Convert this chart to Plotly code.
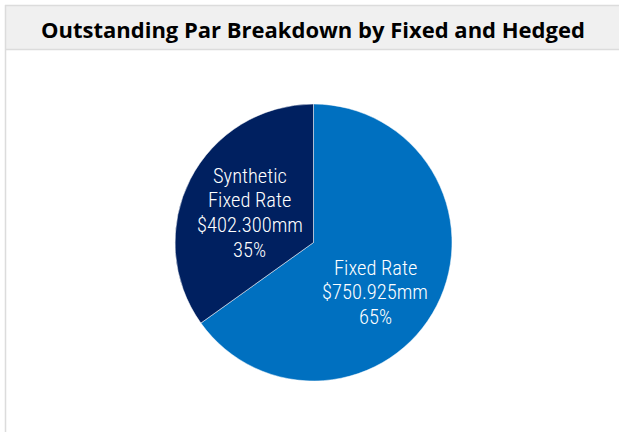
import plotly.graph_objects as go

categories = ["Fixed Rate", "Synthetic Fixed Rate"]
values = [750.925, 402.300]
label_lines = [["Fixed Rate"], ["Synthetic", "Fixed Rate"]]
colors = ["#0070C0", "#002060"]

W, H = 619, 432
total = sum(values)

fig = go.Figure()
cx, cy, r = 313.5, 242.5, 138.5
fig.add_trace(go.Pie(
    labels=categories,
    values=values,
    sort=False,
    direction="clockwise",
    rotation=0,
    marker=dict(colors=colors, line=dict(color="white", width=0.5)),
    textinfo="none",
    hoverinfo="label+value+percent",
    showlegend=False,
    domain=dict(x=[(cx - r) / W, (cx + r) / W], y=[1 - (cy + r) / H, 1 - (cy - r) / H]),
))

# label block positions: (center x, first line y) in pixels
label_pos = [(375, 267.5), (249.5, 175.5)]
line_gap = 24.7
for lines, v, (lx, ly) in zip(label_lines, values, label_pos):
    all_lines = lines + [f"${v:.3f}mm", f"{round(v / total * 100):.0f}%"]
    for i, t in enumerate(all_lines):
        fig.add_annotation(
            x=lx / W, y=1 - (ly + i * line_gap) / H, xref="paper", yref="paper",
            text=t, showarrow=False, align="center",
            font=dict(family="Roboto Condensed, Arial Narrow, sans-serif", size=20.5,
                      color="white", weight=300),
            xanchor="center", yanchor="middle",
        )

# frame and title bar
fig.add_shape(type="rect", xref="paper", yref="paper",
              x0=6 / W, x1=1.01, y0=1 - 49 / H, y1=1 - 6 / H,
              fillcolor="#F0F0F0", line=dict(width=0), layer="below")
fig.add_shape(type="line", xref="paper", yref="paper",
              x0=5 / W, x1=1.01, y0=1 - 5.5 / H, y1=1 - 5.5 / H,
              line=dict(color="#DCDCDC", width=1.5))
fig.add_shape(type="line", xref="paper", yref="paper",
              x0=5 / W, x1=1.01, y0=1 - 49.5 / H, y1=1 - 49.5 / H,
              line=dict(color="#DCDCDC", width=1.5))
fig.add_shape(type="line", xref="paper", yref="paper",
              x0=5.5 / W, x1=5.5 / W, y0=-0.01, y1=1 - 5 / H,
              line=dict(color="#DCDCDC", width=1.5))

fig.add_annotation(
    x=312.5 / W, y=1 - 29.5 / H, xref="paper", yref="paper",
    text="<b>Outstanding Par Breakdown by Fixed and Hedged</b>",
    showarrow=False, xanchor="center", yanchor="middle",
    font=dict(family="Open Sans, Noto Sans, sans-serif", size=22, color="black"),
)

fig.update_layout(
    width=W, height=H,
    margin=dict(l=0, r=0, t=0, b=0),
    paper_bgcolor="white",
    plot_bgcolor="white",
)

fig.write_html("out.html")
